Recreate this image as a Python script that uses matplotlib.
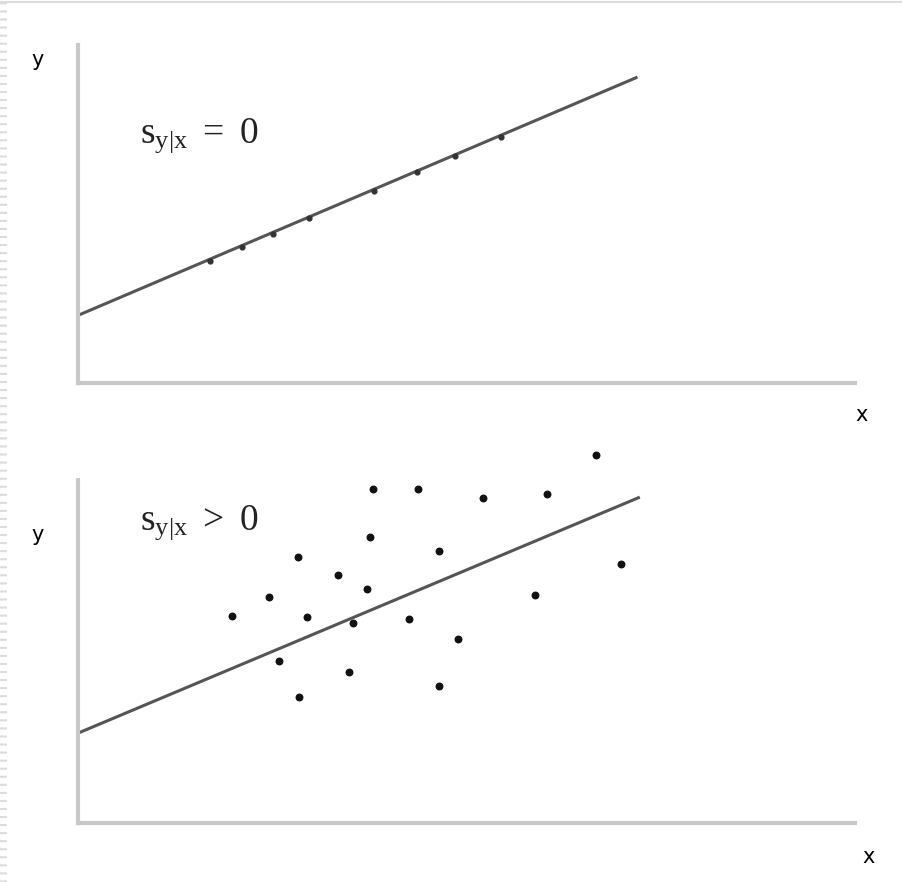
import numpy as np
import matplotlib
matplotlib.use("Agg")
import matplotlib.pyplot as plt
from matplotlib.lines import Line2D

plt.rcParams['mathtext.fontset'] = 'custom'
plt.rcParams['mathtext.rm'] = 'Liberation Serif'
plt.rcParams['mathtext.it'] = 'Liberation Serif'
plt.rcParams['lines.scale_dashes'] = False

# top panel: points sit exactly on the line
top_x = [1.70, 2.11, 2.51, 2.97, 3.81, 4.36, 4.85, 5.44]
top_y = [3.61, 4.02, 4.41, 4.88, 5.68, 6.24, 6.72, 7.28]
top_line_x = [0.0, 7.2]
top_line_y = [2.0, 9.05]

# bottom panel: scattered around the line
bot_x = [3.80, 4.38, 5.21, 6.04, 6.67, 3.76, 2.83, 4.65, 6.99, 3.35, 2.46,
         3.72, 1.98, 2.95, 3.54, 4.26, 5.88, 4.89, 2.59, 3.49, 2.84, 4.65]
bot_y = [9.74, 9.74, 9.48, 9.59, 10.73, 8.34, 7.76, 7.93, 7.55, 7.23, 6.59,
         6.82, 6.03, 6.01, 5.83, 5.95, 6.65, 5.36, 4.72, 4.40, 3.67, 3.99]
bot_line_x = [0.0, 7.23]
bot_line_y = [2.62, 9.50]

fig = plt.figure(figsize=(9.03, 8.82), dpi=100)
fig.patch.set_facecolor('white')

# slide frame leftovers: top rule and dashed left strip
fig.add_artist(Line2D([0, 1], [1 - 1.5/882, 1 - 1.5/882], transform=fig.transFigure,
                      color='#dddddd', lw=1.5))
fig.add_artist(Line2D([3.5/903, 3.5/903], [0, 1], transform=fig.transFigure,
                      color='#dcdcdc', lw=5, linestyle=(0, (1.5, 4.3))))

ax1 = fig.add_axes([0.0864, 0.5658, 0.8605, 0.3832])
ax2 = fig.add_axes([0.0864, 0.0669, 0.8605, 0.3889])

for ax in (ax1, ax2):
    ax.set_xlim(0, 10)
    ax.set_ylim(0, 10)
    for s in ['top', 'right']:
        ax.spines[s].set_visible(False)
    for s in ['left', 'bottom']:
        ax.spines[s].set_color('#c8c8c8')
        ax.spines[s].set_linewidth(3)
    ax.set_xticks([])
    ax.set_yticks([])
    ax.patch.set_alpha(0)

ax1.plot(top_line_x, top_line_y, color='#555555', lw=2.2, solid_capstyle='butt')
ax1.scatter(top_x, top_y, s=12, color='#333333', zorder=3)

ax2.plot(bot_line_x, bot_line_y, color='#555555', lw=2.2, solid_capstyle='butt')
ax2.scatter(bot_x, bot_y, s=22, color='#111111', zorder=3, clip_on=False)

# axis letters
fig.text(38/903, 1 - 60/882, 'y', fontsize=15, ha='center', va='center')
fig.text(38/903, 1 - 535/882, 'y', fontsize=15, ha='center', va='center')
fig.text(862/903, 1 - 415/882, 'x', fontsize=15, ha='center', va='center')
fig.text(869/903, 1 - 857/882, 'x', fontsize=15, ha='center', va='center')

fig.text(140/903, 1 - 136/882, r'$\mathrm{s_{y|x}\ =\ 0}$', fontsize=27,
         ha='left', va='center', color='#222222')
fig.text(140/903, 1 - 523/882, r'$\mathrm{s_{y|x}\ >\ 0}$', fontsize=27,
         ha='left', va='center', color='#222222')

fig.savefig('out.png', dpi=100, facecolor='white')
